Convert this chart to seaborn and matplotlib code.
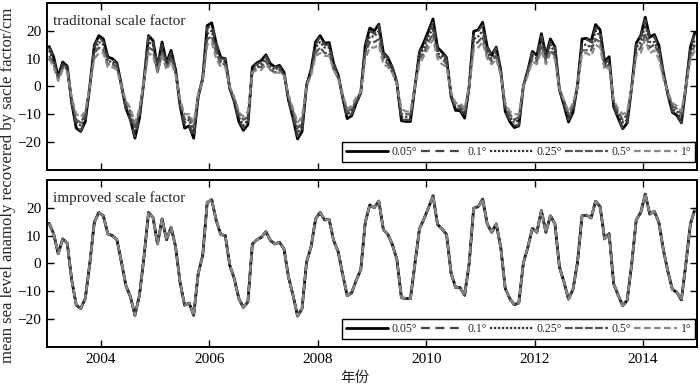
import numpy as np
import pandas as pd
import matplotlib
matplotlib.use("Agg")
import matplotlib.pyplot as plt
import seaborn as sns

# ==========================================
# Data (monthly, Jan 2003 - Dec 2014)
# ==========================================

years = list(range(2003, 2015))
months = list(range(1, 13))

# improved scale factor: all grid sizes give the same curve
msla_improved = [
    14.4, 10.6, 3.5, 8.8, 7.3, -6, -15, -16.2, -12.6, 0, 14.8, 18.3,
    17.1, 10.6, 10, 8.5, 0.5, -7.9, -12, -18.6, -11.4, 2.3, 18.3, 16.5,
    7, 16, 8.5, 13, 6, -7, -15, -14.2, -18.6, -3.7, 2.9, 21.9,
    22.9, 15.4, 10.4, 10, -0.7, -5.5, -12.6, -15.8, -13.8, 7, 8.5, 9.4,
    11.4, 8.2, 7, 7.6, 5.2, -4.9, -11.4, -18.9, -16.2, 0.5, 6, 16,
    18.3, 15.6, 15.8, 8.2, 4.2, -4, -11.6, -10.5, -6, -2.3, 14.8, 21,
    20, 22.4, 12.2, 10.4, 6.8, 1.4, -12.3, -12.6, -12.6, -0.1, 12.4, 16,
    20, 24.3, 14, 12.4, 10.4, -3.5, -8.6, -8.7, -11.4, -0.1, 19.8, 20.4,
    23.1, 14.2, 11.2, 14.2, 5.8, -9, -12.6, -14.8, -14.2, 0.1, 5.8, 12.6,
    11.2, 19, 11.2, 17.1, 14.2, -1.3, -6.7, -12.8, -9.3, 0.5, 17.1, 17.3,
    16.3, 22.3, 20.4, 8.8, 10.7, -7.3, -11.4, -15.2, -13.2, -0.1, 15.6, 18.3,
    24.9, 17.7, 18.7, 14.8, 5, -2.8, -9.3, -10.4, -13.1, 0, 14.2, 19.5,
]

# traditional scale factor, one series per grid size
trad_005 = msla_improved
trad_01 = [
    14, 10, 3, 8, 7, -6, -14, -16, -12, 0, 14, 18,
    16, 10, 10, 8, 0, -8, -12, -18, -11, 2, 18, 16,
    7, 15, 8, 12, 6, -7, -14, -14, -18, -4, 3, 21,
    22, 15, 10, 10, -1, -5, -12, -15, -13, 7, 8, 9,
    11, 8, 7, 7, 5, -5, -11, -18, -16, 0, 6, 15,
    18, 15, 15, 8, 4, -4, -11, -10, -6, -2, 14, 20,
    19, 22, 12, 10, 7, 1, -12, -12, -12, 0, 12, 15,
    19, 23, 13, 12, 10, -3, -8, -8, -11, 0, 19, 20,
    22, 14, 11, 14, 6, -9, -12, -14, -14, 0, 6, 12,
    11, 18, 11, 16, 14, -1, -6, -12, -9, 0, 16, 17,
    16, 21, 20, 8, 10, -7, -11, -15, -13, 0, 15, 18,
    24, 17, 18, 14, 5, -3, -9, -10, -13, 0, 14, 19,
]
trad_025 = [
    13, 9, 3, 8, 6, -5, -13, -14, -11, 0, 13, 16,
    15, 9, 9, 7, 0, -7, -11, -16, -10, 2, 16, 15,
    6, 14, 7, 11, 5, -6, -13, -12, -16, -3, 3, 19,
    20, 14, 9, 9, -1, -5, -11, -14, -12, 6, 7, 8,
    10, 7, 6, 7, 5, -4, -10, -17, -14, 0, 5, 14,
    16, 14, 14, 7, 4, -4, -10, -9, -5, -2, 13, 18,
    18, 20, 11, 9, 6, 1, -11, -11, -11, 0, 11, 14,
    18, 21, 12, 11, 9, -3, -8, -8, -10, 0, 17, 18,
    20, 12, 10, 12, 5, -8, -11, -13, -12, 0, 5, 11,
    10, 17, 10, 15, 12, -1, -6, -11, -8, 0, 15, 15,
    14, 20, 18, 8, 9, -6, -10, -13, -12, 0, 14, 16,
    22, 16, 16, 13, 4, -2, -8, -9, -12, 0, 12, 17,
]
trad_05 = [
    11, 8, 3, 7, 6, -5, -12, -13, -10, 0, 12, 14,
    13, 8, 8, 7, 0, -6, -9, -15, -9, 2, 14, 13,
    5, 12, 7, 10, 5, -5, -12, -11, -15, -3, 2, 17,
    18, 12, 8, 8, -1, -4, -10, -12, -11, 5, 7, 7,
    9, 6, 5, 6, 4, -4, -9, -15, -13, 0, 5, 12,
    14, 12, 12, 6, 3, -3, -9, -8, -5, -2, 12, 16,
    16, 17, 10, 8, 5, 1, -10, -10, -10, 0, 10, 12,
    16, 19, 11, 10, 8, -3, -7, -7, -9, 0, 15, 16,
    18, 11, 9, 11, 5, -7, -10, -12, -11, 0, 5, 10,
    9, 15, 9, 13, 11, -1, -5, -10, -7, 0, 13, 13,
    13, 17, 16, 7, 8, -6, -9, -12, -10, 0, 12, 14,
    19, 14, 15, 12, 4, -2, -7, -8, -10, 0, 11, 15,
]
trad_1 = [
    10, 7, 2, 6, 5, -4, -10, -11, -9, 0, 10, 12,
    12, 7, 7, 6, 0, -5, -8, -13, -8, 2, 12, 11,
    5, 11, 6, 9, 4, -5, -10, -10, -13, -3, 2, 15,
    16, 10, 7, 7, 0, -4, -9, -11, -9, 5, 6, 6,
    8, 6, 5, 5, 4, -3, -8, -13, -11, 0, 4, 11,
    12, 11, 11, 6, 3, -3, -8, -7, -4, -2, 10, 14,
    14, 15, 8, 7, 5, 1, -8, -9, -9, 0, 8, 11,
    14, 17, 10, 8, 7, -2, -6, -6, -8, 0, 13, 14,
    16, 10, 8, 10, 4, -6, -9, -10, -10, 0, 4, 9,
    8, 13, 8, 12, 10, -1, -5, -9, -6, 0, 12, 12,
    11, 15, 14, 6, 7, -5, -8, -10, -9, 0, 11, 12,
    17, 12, 13, 10, 3, -2, -6, -7, -9, 0, 10, 13,
]

grid_labels = ["0.05°", "0.1°", "0.25°", "0.5°", "1°"]
trad_series = [trad_005, trad_01, trad_025, trad_05, trad_1]

# decimal year at mid-month
t = np.array([y + (m - 0.5) / 12 for y in years for m in months])

# ==========================================
# Styles
# ==========================================

line_styles = {
    "0.05°": dict(color="black", linestyle="-", lw=2.0),
    "0.1°": dict(color="#444444", linestyle=(0, (4, 2.5)), lw=1.6),
    "0.25°": dict(color="#333333", linestyle=(0, (1, 0.8)), lw=1.6),
    "0.5°": dict(color="#555555", linestyle=(0, (3.5, 1)), lw=1.6),
    "1°": dict(color="#888888", linestyle=(0, (3, 1.5)), lw=1.6),
}

sns.set_style("ticks")
plt.rcParams["font.family"] = ["Liberation Serif", "DejaVu Serif"]

fig = plt.figure(figsize=(7, 3.86), dpi=100)
ax_top = fig.add_axes([0.067, 0.560, 0.929, 0.432])
ax_bot = fig.add_axes([0.067, 0.101, 0.929, 0.433])

for label, vals in zip(grid_labels, trad_series):
    sns.lineplot(x=t, y=vals, ax=ax_top, label=label, **line_styles[label])

for label in grid_labels:
    sns.lineplot(x=t, y=msla_improved, ax=ax_bot, label=label, **line_styles[label])

panel_titles = ["traditonal scale factor", "improved scale factor"]

for ax, title in zip([ax_top, ax_bot], panel_titles):
    ax.set_xlim(2003, 2015)
    ax.set_ylim(-30, 30)
    ax.set_yticks([-20, -10, 0, 10, 20])
    ax.set_yticklabels(["\u221220", "\u221210", "0", "10", "20"])
    ax.set_xticks([2004, 2006, 2008, 2010, 2012, 2014])
    ax.tick_params(direction="in", length=5, width=1, top=True, right=True,
                   labelsize=11, pad=4, colors="black")
    for sp in ax.spines.values():
        sp.set_linewidth(1.4)
        sp.set_color("black")
    ax.set_xlabel("")
    ax.set_ylabel("")
    ax.text(0.01, 0.93, title, transform=ax.transAxes, fontsize=11,
            va="top", ha="left")
    ax.legend(loc="lower right", bbox_to_anchor=(0.997, 0.045), ncol=5,
              fontsize=8.5, frameon=True, fancybox=False, edgecolor="black",
              framealpha=1, handlelength=3.6, handletextpad=0.3,
              columnspacing=0.3, borderpad=0.35, borderaxespad=0)
    ax.get_legend().get_frame().set_linewidth(1.0)

ax_top.tick_params(labelbottom=False)

fig.text(0.012, 0.52, "mean sea level anamoly recovered by sacle factor/cm",
         rotation=90, va="center", ha="center", fontsize=12)
fig.text(0.507, 0.02, "年份", ha="center", va="center", fontsize=10.5,
         family=["Noto Sans CJK SC", "DejaVu Sans"])

plt.savefig("out.png", dpi=100)
